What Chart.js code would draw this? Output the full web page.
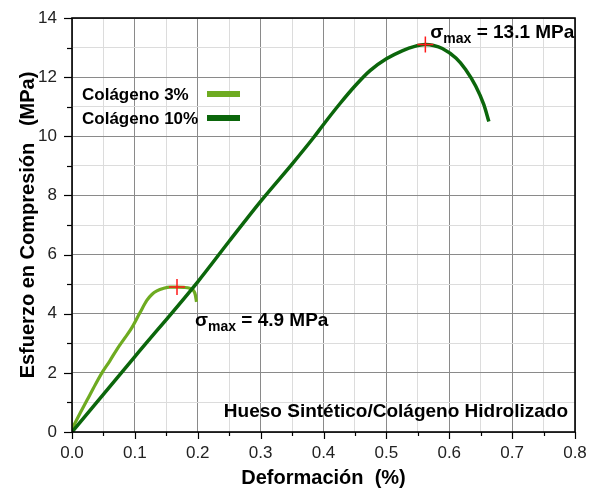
<!DOCTYPE html>
<html>
<head>
<meta charset="utf-8">
<script src="https://cdn.jsdelivr.net/npm/chart.js@4"></script>
<style>
  html, body { margin: 0; padding: 0; background: #fff; }
  #wrap { width: 591px; height: 490px; }
</style>
</head>
<body>
<div id="wrap"><canvas id="curva-esfuerzo"></canvas></div>
<script>
// Colágeno 3 %
const deformacion3 = [0, 0.012, 0.024, 0.037, 0.049, 0.06, 0.071, 0.083, 0.095, 0.108, 0.119, 0.127, 0.135, 0.146, 0.156, 0.167, 0.178, 0.187, 0.193, 0.196, 0.198];
const esfuerzo3 = [0.1, 0.6, 1.08, 1.6, 2.05, 2.4, 2.78, 3.15, 3.52, 4.03, 4.45, 4.65, 4.77, 4.86, 4.9, 4.9, 4.89, 4.86, 4.79, 4.65, 4.4];

// Colágeno 10 %
const deformacion10 = [0, 0.1, 0.2, 0.25, 0.3, 0.35, 0.384, 0.4, 0.426, 0.45, 0.474, 0.5, 0.526, 0.545, 0.562, 0.575, 0.589, 0.611, 0.626, 0.642, 0.655, 0.663];
const esfuerzo10 = [0, 2.55, 5.08, 6.45, 7.8, 9.06, 9.95, 10.4, 11.1, 11.7, 12.22, 12.62, 12.9, 13.04, 13.1, 13.07, 12.97, 12.64, 12.26, 11.7, 11.07, 10.5];

// esfuerzo máximo de cada serie
const maxDeformacion = [0.167, 0.562];
const maxEsfuerzo = [4.9, 13.1];

const series = ['Colágeno 3%', 'Colágeno 10%'];
const colores = ['#6eab21', '#0b660b'];

const FUENTE = "'Liberation Sans', Arial, sans-serif";

const pares = (xs, ys) => xs.map((x, i) => ({ x: x, y: ys[i] }));

const esMayorX = v => Math.round(v * 100) % 10 === 0;
const esMayorY = v => Math.round(v) % 2 === 0;

// marco, marcas de los ejes, leyenda y textos
const decoraciones = {
  id: 'decoraciones',
  afterDraw(chart, args, opts) {
    const ctx = chart.ctx;
    const xs = chart.scales.x, ys = chart.scales.y;
    const a = chart.chartArea;
    ctx.save();

    // marcas de los ejes (hacia fuera)
    ctx.strokeStyle = '#000';
    ctx.lineWidth = 1.2;
    for (let v = 0; v <= 14; v++) {
      const py = Math.round(ys.getPixelForValue(v)) + 0.5;
      const len = esMayorY(v) ? 8 : 5;
      ctx.beginPath();
      ctx.moveTo(a.left - len, py);
      ctx.lineTo(a.left, py);
      ctx.stroke();
    }
    for (let i = 0; i <= 16; i++) {
      const v = i * 0.05;
      const px = Math.round(xs.getPixelForValue(v)) + 0.5;
      const len = esMayorX(v) ? 7 : 4;
      ctx.beginPath();
      ctx.moveTo(px, a.bottom);
      ctx.lineTo(px, a.bottom + len);
      ctx.stroke();
    }

    // marco
    ctx.lineWidth = 1.6;
    ctx.strokeRect(a.left, a.top, a.right - a.left, a.bottom - a.top);

    // leyenda
    ctx.font = 'bold 17px ' + FUENTE;
    ctx.fillStyle = '#000';
    ctx.textBaseline = 'alphabetic';
    ctx.textAlign = 'left';
    series.forEach((s, i) => {
      const y = opts.leyenda.y + i * opts.leyenda.paso;
      ctx.fillText(s, opts.leyenda.x, y);
      ctx.strokeStyle = colores[i];
      ctx.lineWidth = 6;
      ctx.beginPath();
      ctx.moveTo(opts.leyenda.muestraX, y - 6);
      ctx.lineTo(opts.leyenda.muestraX + 33, y - 6);
      ctx.stroke();
    });

    // etiquetas de esfuerzo máximo
    opts.desplazamientos.forEach((d, i) => {
      let x = xs.getPixelForValue(maxDeformacion[i]) + d[0];
      const y = ys.getPixelForValue(maxEsfuerzo[i]) + d[1];
      ctx.font = 'bold 19px ' + FUENTE;
      ctx.fillText('σ', x, y);
      x += ctx.measureText('σ').width;
      ctx.font = 'bold 14px ' + FUENTE;
      ctx.fillText('max', x, y + 5);
      x += ctx.measureText('max').width;
      ctx.font = 'bold 19px ' + FUENTE;
      ctx.fillText(' = ' + maxEsfuerzo[i].toFixed(1) + ' MPa', x, y);
    });

    // nombre del material
    ctx.font = 'bold 19px ' + FUENTE;
    ctx.textAlign = 'right';
    ctx.fillText(opts.titulo, a.right - 7, a.bottom - 15);

    ctx.restore();
  }
};

new Chart(document.getElementById('curva-esfuerzo'), {
  type: 'scatter',
  data: {
    datasets: [
      {
        label: 'máximos',
        data: pares(maxDeformacion, maxEsfuerzo),
        pointStyle: 'cross',
        pointRadius: 8,
        pointBorderWidth: 1.5,
        borderColor: '#ff1a1a',
        backgroundColor: '#ff1a1a',
        showLine: false
      },
      {
        label: series[1],
        data: pares(deformacion10, esfuerzo10),
        showLine: true,
        borderColor: colores[1],
        borderWidth: 3.5,
        pointRadius: 0,
        cubicInterpolationMode: 'monotone'
      },
      {
        label: series[0],
        data: pares(deformacion3, esfuerzo3),
        showLine: true,
        borderColor: colores[0],
        borderWidth: 3.2,
        pointRadius: 0,
        cubicInterpolationMode: 'monotone'
      }
    ]
  },
  options: {
    responsive: true,
    maintainAspectRatio: false,
    animation: false,
    layout: { padding: { top: 18, right: 16, left: 0, bottom: 0 } },
    plugins: {
      legend: { display: false },
      tooltip: { enabled: false },
      decoraciones: {
        leyenda: { x: 82, y: 100, paso: 24, muestraX: 207 },
        desplazamientos: [[18, 39], [5, -7]],
        titulo: 'Hueso Sintético/Colágeno Hidrolizado'
      }
    },
    scales: {
      x: {
        type: 'linear',
        min: 0,
        max: 0.8,
        afterFit: s => { s.height = 58; s.paddingLeft = 0; s.paddingRight = 0; },
        border: { display: false },
        grid: {
          drawTicks: false,
          color: c => esMayorX(c.tick.value) ? '#8a8a8a' : '#dcdcdc',
          lineWidth: 1
        },
        ticks: {
          stepSize: 0.05,
          padding: 11,
          maxRotation: 0,
          autoSkip: false,
          color: '#222',
          font: { family: FUENTE, size: 17 },
          callback: v => esMayorX(v) ? v.toFixed(1) : ''
        },
        title: {
          display: true,
          text: 'Deformación  (%)',
          color: '#000',
          font: { family: FUENTE, size: 20, weight: 'bold' },
          padding: { top: 0, bottom: 0 }
        }
      },
      y: {
        type: 'linear',
        min: 0,
        max: 14,
        afterFit: s => { s.width = 72; s.paddingTop = 0; s.paddingBottom = 0; },
        border: { display: false },
        grid: {
          drawTicks: false,
          color: c => esMayorY(c.tick.value) ? '#8a8a8a' : '#dcdcdc',
          lineWidth: 1
        },
        ticks: {
          stepSize: 1,
          padding: 15,
          autoSkip: false,
          color: '#222',
          font: { family: FUENTE, size: 17 },
          callback: v => esMayorY(v) ? String(v) : ''
        },
        title: {
          display: true,
          text: 'Esfuerzo en Compresión   (MPa)',
          color: '#000',
          font: { family: FUENTE, size: 20, weight: 'bold' },
          padding: { top: 16, bottom: 0 }
        }
      }
    }
  },
  plugins: [decoraciones]
});
</script>
</body>
</html>
